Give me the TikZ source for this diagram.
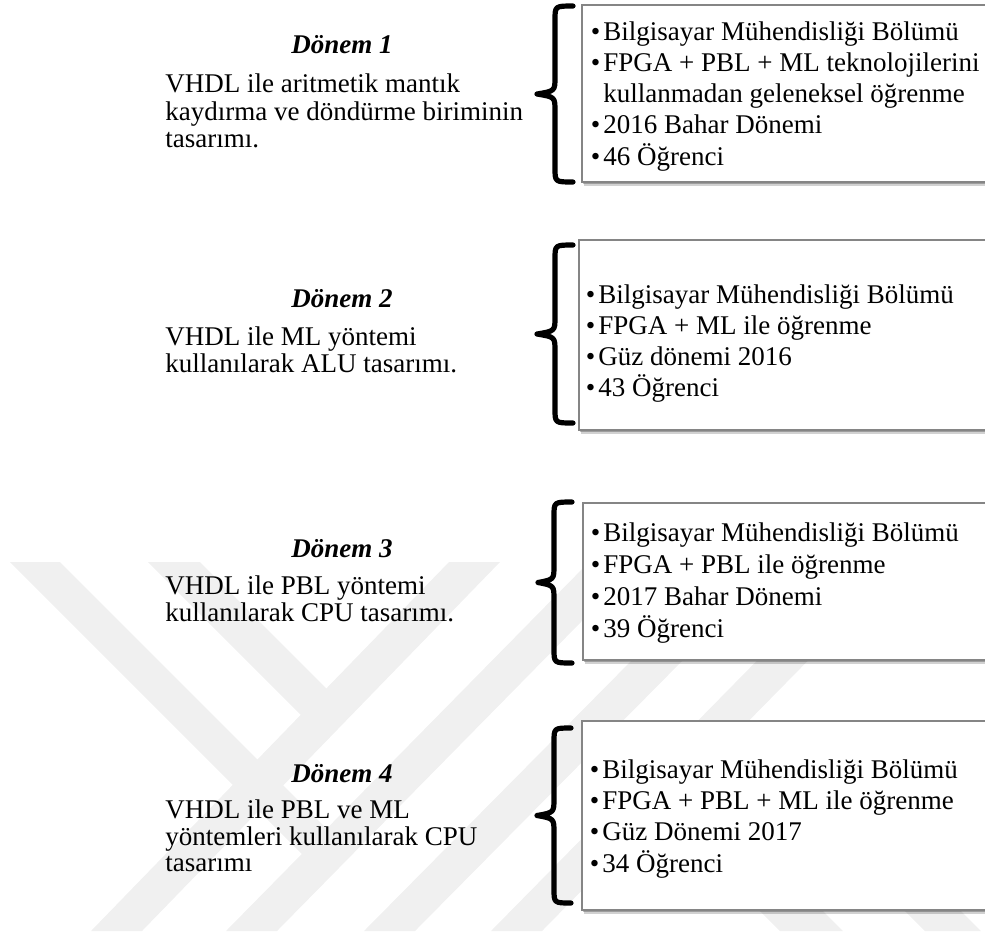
\documentclass[tikz,border=0pt]{standalone}
\usepackage{fontspec}
\setmainfont{Liberation Serif}
\usetikzlibrary{shadows,fit}

% bullet hung to the left of an item line
\newcommand\itembullet{\llap{•\hspace{1.5pt}}}
% curly brace: #1 cusp x, #2 stem x, #3 tip x, #4 top y, #5 bottom y
\newcommand\curlybrace[5]{%
  \draw[bracestroke] (#3,#4) .. controls (#2,#4) .. (#2,{#4+14})
    -- (#2,{(#4+#5)/2-17}) .. controls (#2,{(#4+#5)/2-3}) .. (#1,{(#4+#5)/2})
    .. controls (#2,{(#4+#5)/2+3}) .. (#2,{(#4+#5)/2+17})
    -- (#2,{#5-14}) .. controls (#2,#5) .. (#3,#5);}

\tikzset{
  basefont/.style={font=\fontsize{13.5}{15}\selectfont},
  boxtext/.style={basefont, anchor=base west, inner sep=0pt},
  lefttext/.style={basefont, anchor=base west, inner sep=0pt},
  periodtitle/.style={font=\fontsize{13.5}{15}\selectfont\bfseries\itshape, anchor=base, inner sep=0pt},
  infobox/.style={draw=black!48, line width=0.6pt, fill=white, inner sep=0pt,
    drop shadow={shadow xshift=1pt, shadow yshift=-2pt, fill=black, opacity=0.18},
    drop shadow={shadow xshift=0.6pt, shadow yshift=-1.2pt, fill=black, opacity=0.25}},
  bracestroke/.style={line width=2.6pt, line cap=round, line join=round},
  wmark/.style={fill=black!6, draw=none}
}

\begin{document}
\begin{tikzpicture}[x=0.5pt, y=-0.5pt]
\useasboundingbox (0,0) rectangle (985,934);

% faint background stripes
\fill[wmark] (10,562) -- (60,562) -- (327.5,829.5) -- (302.5,854.5) -- cycle;
\fill[wmark] (148,562) -- (200,562) -- (330,692) -- (304,718) -- cycle;
\fill[wmark] (91,931) -- (142,931) -- (500,562) -- (449,562) -- cycle;
\fill[wmark] (226,931) -- (277,931) -- (640,562) -- (589,562) -- cycle;
\fill[wmark] (364,931) -- (415,931) -- (780,562) -- (729,562) -- cycle;
\fill[wmark] (491,931) -- (542,931) -- (905,562) -- (854,562) -- cycle;
\fill[wmark] (780,931) -- (843,931) -- (672,760) -- (609,760) -- cycle;
\fill[wmark] (925,931) -- (981,931) -- (810,760) -- (754,760) -- cycle;

% information boxes
\node[infobox, fit={(582,5) (1010,182)}] (box1) {};
\node[infobox, fit={(579,240) (1010,430)}] (box2) {};
\node[infobox, fit={(583,503) (1010,660)}] (box3) {};
\node[infobox, fit={(582,721) (1010,910)}] (box4) {};

% braces
\curlybrace{537}{555}{573}{6}{182}
\curlybrace{537}{555}{573}{245}{423}
\curlybrace{538}{554}{572}{502}{663}
\curlybrace{537}{554}{571}{728}{903}

% period 1
\node[periodtitle] (t1) at (342,53) {Dönem 1};
\node[lefttext] (l1a) at (165,92) {VHDL ile aritmetik mantık};
\node[lefttext] (l1b) at (165,120) {kaydırma ve döndürme biriminin};
\node[lefttext] (l1c) at (165,147) {tasarımı.};
\node[boxtext] (b1a) at (603,40) {\itembullet Bilgisayar Mühendisliği Bölümü};
\node[boxtext] (b1b) at (603,71) {\itembullet FPGA + PBL + ML teknolojilerini};
\node[boxtext] (b1c) at (603,102) {kullanmadan geleneksel öğrenme};
\node[boxtext] (b1d) at (603,133) {\itembullet 2016 Bahar Dönemi};
\node[boxtext] (b1e) at (603,165) {\itembullet 46 Öğrenci};

% period 2
\node[periodtitle] (t2) at (342,307) {Dönem 2};
\node[lefttext] (l2a) at (165,345) {VHDL ile ML yöntemi};
\node[lefttext] (l2b) at (165,372) {kullanılarak ALU tasarımı.};
\node[boxtext] (b2a) at (598,303) {\itembullet Bilgisayar Mühendisliği Bölümü};
\node[boxtext] (b2b) at (598,334) {\itembullet FPGA + ML ile öğrenme};
\node[boxtext] (b2c) at (598,365) {\itembullet Güz dönemi 2016};
\node[boxtext] (b2d) at (598,396) {\itembullet 43 Öğrenci};

% period 3
\node[periodtitle] (t3) at (342,557) {Dönem 3};
\node[lefttext] (l3a) at (165,594) {VHDL ile PBL yöntemi};
\node[lefttext] (l3b) at (165,621) {kullanılarak CPU tasarımı.};
\node[boxtext] (b3a) at (603,541) {\itembullet Bilgisayar Mühendisliği Bölümü};
\node[boxtext] (b3b) at (603,573) {\itembullet FPGA + PBL ile öğrenme};
\node[boxtext] (b3c) at (603,605) {\itembullet 2017 Bahar Dönemi};
\node[boxtext] (b3d) at (603,637) {\itembullet 39 Öğrenci};

% period 4
\node[periodtitle] (t4) at (342,782) {Dönem 4};
\node[lefttext] (l4a) at (165,818) {VHDL ile PBL ve ML};
\node[lefttext] (l4b) at (165,845) {yöntemleri kullanılarak CPU};
\node[lefttext] (l4c) at (165,871) {tasarımı};
\node[boxtext] (b4a) at (602,778) {\itembullet Bilgisayar Mühendisliği Bölümü};
\node[boxtext] (b4b) at (602,809) {\itembullet FPGA + PBL + ML ile öğrenme};
\node[boxtext] (b4c) at (602,840) {\itembullet Güz Dönemi 2017};
\node[boxtext] (b4d) at (602,872) {\itembullet 34 Öğrenci};
\end{tikzpicture}
\end{document}
